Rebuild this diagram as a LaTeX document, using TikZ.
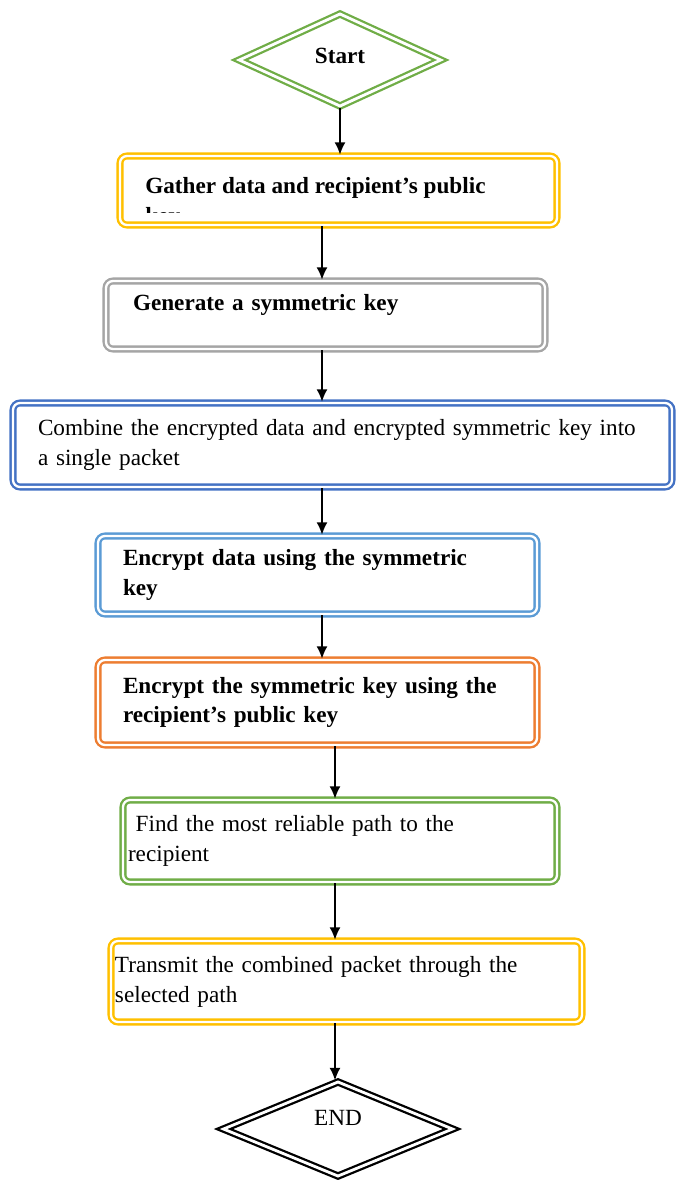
\documentclass[tikz,border=0pt]{standalone}
\usepackage{fontspec}
\setmainfont{Liberation Serif}
\usetikzlibrary{shapes.geometric,arrows.meta}
\definecolor{sgreen}{HTML}{70AD47}
\definecolor{syellow}{HTML}{FFC000}
\definecolor{sgray}{HTML}{A5A5A5}
\definecolor{sblue}{HTML}{4472C4}
\definecolor{slight}{HTML}{5B9BD5}
\definecolor{sorange}{HTML}{ED7D31}

\begin{document}
\begin{tikzpicture}[>={Latex[length=2.5mm,width=2.2mm]},
  stepbox/.style={draw, double, rounded corners=1.4mm, line width=1.35pt,
    double distance=1.3pt, inner sep=0pt, align=left,
    font=\fontsize{13.2}{17}\selectfont},
  decision/.style={diamond, draw, double, line width=1.3pt,
    double distance=1.6pt, inner sep=0pt,
    font=\fontsize{13.2}{15}\selectfont},
  flow/.style={->, line width=1pt}]
  \useasboundingbox (0,0) rectangle (13.56,-23.6);
  \coordinate (midcol) at (6.44,0);
  \coordinate (lowcol) at (6.7,0);

  % start and first box
  \node[decision, draw=sgreen, minimum width=4.05cm, minimum height=1.86cm,
    text height=0.3cm, text depth=0.15cm] (start) at (6.8,-1.2) {\bfseries Start};
  \node[stepbox, draw=syellow, minimum width=8.74cm, minimum height=1.38cm] (gather) at (6.77,-3.81) {};
  \begin{scope}
    \clip (0,-3.0) rectangle (13.56,-4.25);
    \node[font=\fontsize{13.2}{17}\selectfont\bfseries, align=left, inner sep=0pt,
      anchor=base west] (gathertext) at (2.9,-4.46) {Gather data and recipient's public\\key};
  \end{scope}

  % the steps
  \node[stepbox, draw=sgray, minimum width=8.78cm, minimum height=1.36cm, text width=7.7cm,
    text height=0.3cm, text depth=0.5cm] (generate) at (6.51,-6.30) {\bfseries Generate a symmetric key};
  \node[stepbox, draw=sblue, minimum width=13.18cm, minimum height=1.68cm, text width=12.18cm]
    (combine) at (6.85,-8.9) {Combine the encrypted data and encrypted symmetric key into\\a single packet};
  \node[stepbox, draw=slight, minimum width=8.78cm, minimum height=1.56cm, text width=7.78cm]
    (encdata) at (6.35,-11.5) {\bfseries Encrypt data using the symmetric\\\bfseries key};
  \node[stepbox, draw=sorange, minimum width=8.78cm, minimum height=1.70cm, text width=7.78cm]
    (enckey) at (6.35,-14.05) {\bfseries Encrypt the symmetric key using the\\\bfseries recipient's public key};
  \node[stepbox, draw=sgreen, minimum width=8.68cm, minimum height=1.64cm, text width=8.48cm]
    (findpath) at (6.8,-16.82) {\ Find the most reliable path to the\\recipient};
  \node[stepbox, draw=syellow, minimum width=9.42cm, minimum height=1.62cm, text width=9.26cm]
    (transmit) at (6.93,-19.63) {Transmit the combined packet through the\\selected path};
  \node[decision, draw=black, minimum width=4.6cm, minimum height=1.9cm,
    text height=0.3cm, text depth=0.45cm] (finish) at (6.76,-22.58) {END};

  % arrows
  \draw[flow] (start.south) -- (start.south |- gather.north);
  \draw[flow] (gather.south -| midcol) -- (generate.north -| midcol);
  \draw[flow] (generate.south -| midcol) -- (combine.north -| midcol);
  \draw[flow] (combine.south -| midcol) -- (encdata.north -| midcol);
  \draw[flow] (encdata.south -| midcol) -- (enckey.north -| midcol);
  \draw[flow] (enckey.south -| lowcol) -- (findpath.north -| lowcol);
  \draw[flow] (findpath.south -| lowcol) -- (transmit.north -| lowcol);
  \draw[flow] (transmit.south -| lowcol) -- (finish.north -| lowcol);
\end{tikzpicture}
\end{document}
